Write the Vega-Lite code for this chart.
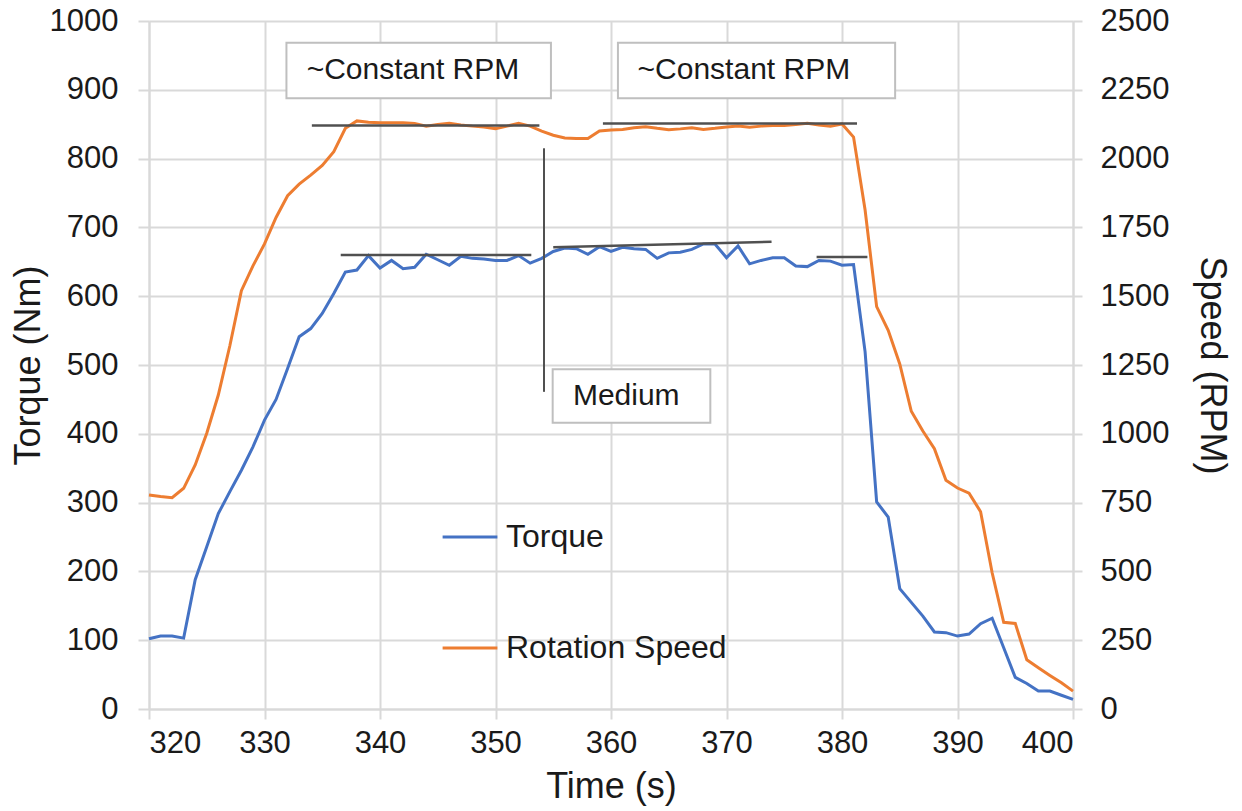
{
  "$schema": "https://vega.github.io/schema/vega-lite/v6.json",
  "width": 924,
  "height": 688,
  "autosize": {"type": "none"},
  "padding": {"left": 149, "top": 21, "right": 169, "bottom": 102},
  "background": "white",
  "config": {
    "font": "Liberation Sans",
    "view": {"stroke": null},
    "axis": {
      "labelFont": "Liberation Sans",
      "titleFont": "Liberation Sans",
      "labelColor": "#1a1a1a",
      "titleColor": "#1a1a1a",
      "titleFontWeight": "normal",
      "labelFontSize": 31,
      "titleFontSize": 36,
      "gridColor": "#d9d9d9",
      "gridWidth": 2,
      "domainColor": "#d9d9d9",
      "domainWidth": 2,
      "tickColor": "#d9d9d9",
      "tickWidth": 2
    },
    "legend": {"labelFont": "Liberation Sans"}
  },
  "datasets": {
    "speed": [
      {"t":320,"rpm":778},{"t":321,"rpm":772},{"t":322,"rpm":768},{"t":323,"rpm":802},{"t":324,"rpm":887},
      {"t":325,"rpm":1002},{"t":326,"rpm":1141},{"t":327,"rpm":1320},{"t":328,"rpm":1520},{"t":329,"rpm":1610},
      {"t":330,"rpm":1690},{"t":331,"rpm":1786},{"t":332,"rpm":1865},{"t":333,"rpm":1907},{"t":334,"rpm":1940},
      {"t":335,"rpm":1975},{"t":336,"rpm":2025},{"t":337,"rpm":2110},{"t":338,"rpm":2137},{"t":339,"rpm":2132},
      {"t":340,"rpm":2130},{"t":341,"rpm":2130},{"t":342,"rpm":2130},{"t":343,"rpm":2128},{"t":344,"rpm":2118},
      {"t":345,"rpm":2124},{"t":346,"rpm":2128},{"t":347,"rpm":2122},{"t":348,"rpm":2118},{"t":349,"rpm":2115},
      {"t":350,"rpm":2109},{"t":351,"rpm":2118},{"t":352,"rpm":2128},{"t":353,"rpm":2118},{"t":354,"rpm":2100},
      {"t":355,"rpm":2085},{"t":356,"rpm":2075},{"t":357,"rpm":2073},{"t":358,"rpm":2073},{"t":359,"rpm":2100},
      {"t":360,"rpm":2104},{"t":361,"rpm":2106},{"t":362,"rpm":2112},{"t":363,"rpm":2116},{"t":364,"rpm":2110},
      {"t":365,"rpm":2105},{"t":366,"rpm":2108},{"t":367,"rpm":2112},{"t":368,"rpm":2106},{"t":369,"rpm":2110},
      {"t":370,"rpm":2115},{"t":371,"rpm":2118},{"t":372,"rpm":2114},{"t":373,"rpm":2118},{"t":374,"rpm":2120},
      {"t":375,"rpm":2120},{"t":376,"rpm":2124},{"t":377,"rpm":2128},{"t":378,"rpm":2122},{"t":379,"rpm":2118},
      {"t":380,"rpm":2126},{"t":381,"rpm":2078},{"t":382,"rpm":1813},{"t":383,"rpm":1462},{"t":384,"rpm":1376},
      {"t":385,"rpm":1254},{"t":386,"rpm":1082},{"t":387,"rpm":1010},{"t":388,"rpm":946},{"t":389,"rpm":831},
      {"t":390,"rpm":803},{"t":391,"rpm":784},{"t":392,"rpm":717},{"t":393,"rpm":495},{"t":394,"rpm":315},
      {"t":395,"rpm":311},{"t":396,"rpm":179},{"t":397,"rpm":150},{"t":398,"rpm":122},{"t":399,"rpm":95},
      {"t":400,"rpm":65}
    ],
    "torque": [
      {"t":320,"nm":102},{"t":321,"nm":106},{"t":322,"nm":106},{"t":323,"nm":103},{"t":324,"nm":188},
      {"t":325,"nm":236},{"t":326,"nm":284},{"t":327,"nm":316},{"t":328,"nm":347},{"t":329,"nm":381},
      {"t":330,"nm":420},{"t":331,"nm":450},{"t":332,"nm":495},{"t":333,"nm":541},{"t":334,"nm":553},
      {"t":335,"nm":575},{"t":336,"nm":604},{"t":337,"nm":635},{"t":338,"nm":638},{"t":339,"nm":659},
      {"t":340,"nm":641},{"t":341,"nm":652},{"t":342,"nm":640},{"t":343,"nm":642},{"t":344,"nm":661},
      {"t":345,"nm":653},{"t":346,"nm":645},{"t":347,"nm":658},{"t":348,"nm":655},{"t":349,"nm":654},
      {"t":350,"nm":652},{"t":351,"nm":652},{"t":352,"nm":659},{"t":353,"nm":648},{"t":354,"nm":655},
      {"t":355,"nm":665},{"t":356,"nm":670},{"t":357,"nm":669},{"t":358,"nm":661},{"t":359,"nm":672},
      {"t":360,"nm":665},{"t":361,"nm":671},{"t":362,"nm":669},{"t":363,"nm":668},{"t":364,"nm":655},
      {"t":365,"nm":663},{"t":366,"nm":664},{"t":367,"nm":668},{"t":368,"nm":676},{"t":369,"nm":676},
      {"t":370,"nm":656},{"t":371,"nm":673},{"t":372,"nm":647},{"t":373,"nm":652},{"t":374,"nm":656},
      {"t":375,"nm":656},{"t":376,"nm":644},{"t":377,"nm":643},{"t":378,"nm":652},{"t":379,"nm":651},
      {"t":380,"nm":645},{"t":381,"nm":646},{"t":382,"nm":519},{"t":383,"nm":301},{"t":384,"nm":279},
      {"t":385,"nm":175},{"t":386,"nm":155},{"t":387,"nm":135},{"t":388,"nm":112},{"t":389,"nm":111},
      {"t":390,"nm":106},{"t":391,"nm":109},{"t":392,"nm":124},{"t":393,"nm":132},{"t":394,"nm":89},
      {"t":395,"nm":46},{"t":396,"nm":37},{"t":397,"nm":26},{"t":398,"nm":26},{"t":399,"nm":20},
      {"t":400,"nm":14}
    ],
    "hlines": [
      {"t1":334.1,"t2":353.8,"v1":848,"v2":848},
      {"t1":359.3,"t2":381.3,"v1":851,"v2":851},
      {"t1":336.6,"t2":353.1,"v1":660,"v2":660},
      {"t1":355.0,"t2":373.9,"v1":671,"v2":679},
      {"t1":377.8,"t2":382.2,"v1":657,"v2":657}
    ],
    "vline": [{"t":354.2,"v1":815,"v2":461}],
    "boxes": [
      {"t1":331.9,"t2":354.8,"v1":887.6,"v2":968.5,"tx":333.65,"ty":929,"label":"~Constant RPM"},
      {"t1":360.6,"t2":384.6,"v1":887.6,"v2":968.5,"tx":362.3,"ty":929,"label":"~Constant RPM"},
      {"t1":354.95,"t2":368.6,"v1":416.1,"v2":493.8,"tx":356.7,"ty":455,"label":"Medium"}
    ]
  },
  "layer": [
    {
      "data": {"name": "speed"},
      "mark": {"type": "line", "strokeWidth": 3, "color": "#ED7D31"},
      "encoding": {
        "x": {
          "field": "t", "type": "quantitative",
          "scale": {"domain": [320, 400], "nice": false, "zero": false},
          "axis": {"values": [320,330,340,350,360,370,380,390,400], "format": "d", "title": "Time (s)", "grid": true, "tickSize": 10, "labelPadding": 9, "titlePadding": 11, "labelFontSize": 31}
        },
        "y": {
          "field": "rpm", "type": "quantitative",
          "scale": {"domain": [0, 2500], "nice": false},
          "axis": {"orient": "right", "values": [0,250,500,750,1000,1250,1500,1750,2000,2250,2500], "format": "d", "title": "Speed (RPM)", "grid": false, "tickSize": 9, "labelPadding": 18, "titlePadding": 24}
        },
        "color": {
          "datum": "Rotation Speed",
          "type": "nominal",
          "scale": {"domain": ["Torque", "Rotation Speed"], "range": ["#4472C4", "#ED7D31"]},
          "legend": {
            "orient": "none", "legendX": 292, "legendY": 487, "title": null,
            "symbolType": "stroke", "symbolSize": 3000, "symbolStrokeWidth": 3,
            "labelFontSize": 32, "labelColor": "#1a1a1a", "labelOffset": 7, "labelLimit": 0,
            "rowPadding": 66, "padding": 0
          }
        }
      }
    },
    {
      "layer": [
        {
          "data": {"name": "torque"},
          "mark": {"type": "line", "strokeWidth": 3},
          "encoding": {
            "x": {"field": "t", "type": "quantitative"},
            "y": {
              "field": "nm", "type": "quantitative",
              "scale": {"domain": [0, 1000], "nice": false},
              "axis": {"orient": "left", "values": [0,100,200,300,400,500,600,700,800,900,1000], "format": "d", "title": "Torque (Nm)", "grid": true, "tickSize": 11, "labelPadding": 20, "titlePadding": 2}
            },
            "color": {"datum": "Torque", "type": "nominal"}
          }
        },
        {
          "data": {"name": "hlines"},
          "mark": {"type": "rule", "color": "#505050", "strokeWidth": 2.5},
          "encoding": {
            "x": {"field": "t1", "type": "quantitative"},
            "x2": {"field": "t2"},
            "y": {"field": "v1", "type": "quantitative"},
            "y2": {"field": "v2"}
          }
        },
        {
          "data": {"name": "vline"},
          "mark": {"type": "rule", "color": "#505050", "strokeWidth": 2},
          "encoding": {
            "x": {"field": "t", "type": "quantitative"},
            "y": {"field": "v1", "type": "quantitative"},
            "y2": {"field": "v2"}
          }
        },
        {
          "data": {"name": "boxes"},
          "mark": {"type": "rect", "fill": "white", "stroke": "#bfbfbf", "strokeWidth": 2},
          "encoding": {
            "x": {"field": "t1", "type": "quantitative"},
            "x2": {"field": "t2"},
            "y": {"field": "v1", "type": "quantitative"},
            "y2": {"field": "v2"}
          }
        },
        {
          "data": {"name": "boxes"},
          "mark": {"type": "text", "align": "left", "baseline": "middle", "fontSize": 30, "color": "#1a1a1a", "font": "Liberation Sans"},
          "encoding": {
            "x": {"field": "tx", "type": "quantitative"},
            "y": {"field": "ty", "type": "quantitative"},
            "text": {"field": "label"}
          }
        }
      ]
    }
  ],
  "resolve": {"scale": {"y": "independent"}}
}
